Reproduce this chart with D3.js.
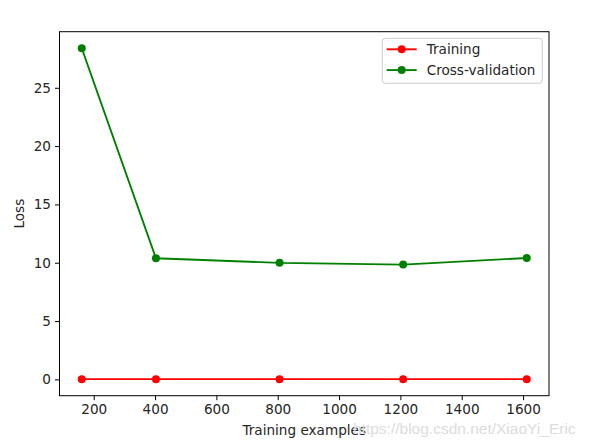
<!DOCTYPE html>
<html>
<head>
<meta charset="utf-8">
<script src="https://cdn.jsdelivr.net/npm/d3@7"></script>
<style>
  body { margin: 0; background: #fff; }
  svg text { font-family: "DejaVu Sans", sans-serif; fill: #262626; }
</style>
</head>
<body>
<svg id="chart" width="590" height="446"></svg>
<script>
// data
var trainSizes = [161, 403, 806, 1209, 1612];
var trainLoss = [0.02, 0.02, 0.02, 0.02, 0.02];
var cvLoss = [28.39, 10.38, 9.99, 9.84, 10.41];
var xTicks = [200, 400, 600, 800, 1000, 1200, 1400, 1600];
var yTicks = [0, 5, 10, 15, 20, 25];
var seriesNames = ['Training', 'Cross-validation'];
var seriesColors = ['#ff0000', '#008000'];

var plotLeft = 59.5, plotRight = 549, plotTop = 31.7, plotBottom = 395.7;
var fontSize = '13.6px';
var svg = d3.select('#chart');

// matplotlib-like 5% margins
function paddedDomain(vals) {
    var lo = d3.min(vals), hi = d3.max(vals);
    var pad = (hi - lo) * 0.05;
    return [lo - pad, hi + pad];
}

var xScale = d3.scaleLinear().domain(paddedDomain(trainSizes)).range([plotLeft, plotRight]);
var yScale = d3.scaleLinear().domain(paddedDomain(trainLoss.concat(cvLoss))).range([plotBottom, plotTop]);

// axes
var xAxis = svg.append('g')
    .attr('transform', 'translate(0,' + plotBottom + ')')
    .call(d3.axisBottom(xScale).tickValues(xTicks).tickSize(4.5).tickPadding(4).tickFormat(d3.format('d')));
var yAxis = svg.append('g')
    .attr('transform', 'translate(' + plotLeft + ',0)')
    .call(d3.axisLeft(yScale).tickValues(yTicks).tickSize(4.5).tickPadding(4).tickFormat(d3.format('d')));
[xAxis, yAxis].forEach(function (ax) {
    ax.select('.domain').remove();
    ax.selectAll('line').attr('stroke', '#000').attr('stroke-width', 1);
    ax.selectAll('text').style('font-size', fontSize).attr('fill', '#262626');
});

// lines + markers
var series = [trainLoss, cvLoss];
var line = d3.line()
    .x(function (d, i) { return xScale(trainSizes[i]); })
    .y(function (d) { return yScale(d); });

series.forEach(function (vals, s) {
    svg.append('path')
        .datum(vals)
        .attr('d', line)
        .attr('fill', 'none')
        .attr('stroke', seriesColors[s])
        .attr('stroke-width', 1.9);
    svg.append('g').selectAll('circle')
        .data(vals).enter()
        .append('circle')
        .attr('cx', function (d, i) { return xScale(trainSizes[i]); })
        .attr('cy', function (d) { return yScale(d); })
        .attr('r', 4)
        .attr('fill', seriesColors[s]);
});

// frame
svg.append('rect')
    .attr('x', plotLeft).attr('y', plotTop)
    .attr('width', plotRight - plotLeft).attr('height', plotBottom - plotTop)
    .attr('fill', 'none').attr('stroke', '#000').attr('stroke-width', 1);

// legend
var legend = svg.append('g');
legend.append('rect')
    .attr('x', 382.3).attr('y', 38.3)
    .attr('width', 160).attr('height', 45)
    .attr('rx', 3)
    .attr('fill', '#fff').attr('fill-opacity', 0.8)
    .attr('stroke', '#cccccc');
var items = legend.selectAll('g.item').data(seriesNames).enter()
    .append('g').attr('class', 'item')
    .attr('transform', function (d, i) { return 'translate(0,' + (49.3 + i * 20.8) + ')'; });
items.append('line')
    .attr('x1', 386.7).attr('x2', 416.7)
    .attr('stroke', function (d, i) { return seriesColors[i]; })
    .attr('stroke-width', 1.9);
items.append('circle')
    .attr('cx', 401.7).attr('r', 4)
    .attr('fill', function (d, i) { return seriesColors[i]; });
items.append('text')
    .attr('x', 426.7).attr('dy', '0.35em')
    .style('font-size', fontSize)
    .text(function (d) { return d; });

// axis labels
svg.append('text')
    .attr('x', (plotLeft + plotRight) / 2).attr('y', 430).attr('dy', '0.35em')
    .attr('text-anchor', 'middle').style('font-size', fontSize)
    .text('Training examples');
svg.append('text')
    .attr('transform', 'translate(19,' + ((plotTop + plotBottom) / 2) + ') rotate(-90)')
    .attr('dy', '0.35em')
    .attr('text-anchor', 'middle').style('font-size', fontSize)
    .text('Loss');

// watermark
svg.append('text')
    .attr('x', 353).attr('y', 433.5)
    .style('font-family', '"Liberation Sans", Arial, sans-serif')
    .style('font-size', '15.5px')
    .style('fill', '#dcdcdc')
    .text('https://blog.csdn.net/XiaoYi_Eric');
</script>
</body>
</html>
